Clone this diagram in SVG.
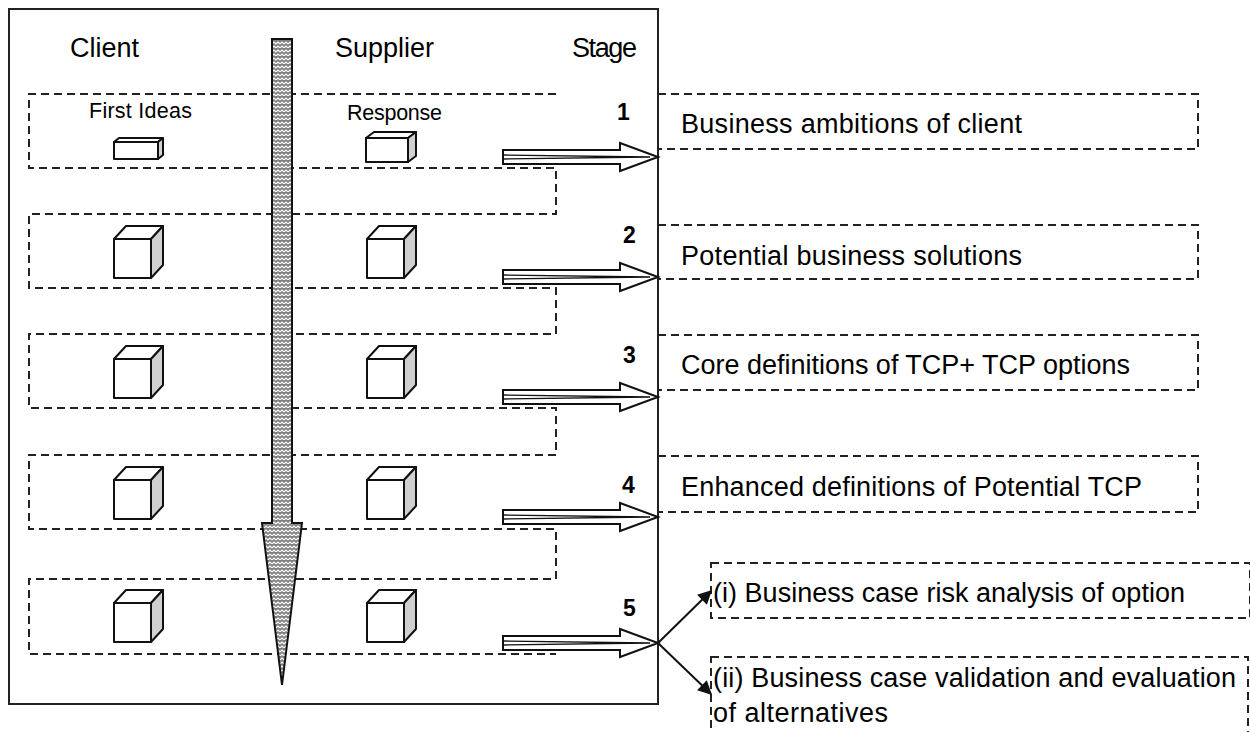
<svg xmlns="http://www.w3.org/2000/svg" width="1250" height="732" viewBox="0 0 1250 732">
<style>
.t{font-family:"Liberation Sans",Arial,sans-serif;fill:#000}
.h{font-size:27px}
.s{font-size:21.5px}
.n{font-size:23px;font-weight:bold}
.r{font-size:27px}
.dash{fill:none;stroke:#222;stroke-width:2;stroke-dasharray:8 5}
.box{fill:#fff;stroke:#111;stroke-width:2;stroke-linejoin:round}
.side{fill:#d0d0d0;stroke:#111;stroke-width:2;stroke-linejoin:round}
.dbl{fill:#fff;stroke:#111;stroke-width:2;stroke-linejoin:miter}
.in{fill:none;stroke:#111;stroke-width:1.3}
.ln{fill:none;stroke:#111;stroke-width:2}
</style>
<defs>
<pattern id="weave" width="8" height="8" patternUnits="userSpaceOnUse">
<rect width="8" height="8" fill="#808080"/>
<path d="M0,4 L2,2 L4,4 L6,2 L8,4 M0,8 L2,6 L4,8 L6,6 L8,8" fill="none" stroke="#fff" stroke-width="1.1"/>
</pattern>
<marker id="ahb" viewBox="0 0 10 10" refX="9" refY="5" markerWidth="16" markerHeight="14" markerUnits="userSpaceOnUse" orient="auto">
<path d="M0,0 L10,5 L0,10 z" fill="#111"/>
</marker>
<g id="cube">
<rect class="box" x="0" y="0" width="37" height="39"/>
<polygon class="box" points="0,0 12,-13 49,-13 37,0"/>
<polygon class="side" points="37,0 49,-13 49,26 37,39"/>
</g>
<g id="dblarrow">
<polygon class="dbl" points="503,-7 620,-7 620,-14 658,0 620,14 620,7 503,7"/>
<path class="in" d="M503,-2 L650,0 M503,2 L650,0"/>
</g>
</defs>
<rect width="1250" height="732" fill="#fff"/>

<g id="frame">
<rect x="9" y="9" width="649" height="695" fill="none" stroke="#222" stroke-width="2"/>
</g>

<g id="headers">
<text class="t h" x="70" y="57">Client</text>
<text class="t h" x="335" y="57">Supplier</text>
<text class="t h" x="572" y="57" textLength="65">Stage</text>
</g>

<g id="stage-rows">
<path class="dash" d="M556,94 H29 V168 H556 V214 H29 V288 H556 V334 H29 V408 H556 V455 H29 V529 H556 V579 H29 V654 H556"/>
</g>

<g id="row1">
<text class="t s" x="89" y="118" textLength="103">First Ideas</text>
<text class="t s" x="347" y="120" textLength="95">Response</text>
<g id="client-box-1">
<rect class="box" x="114" y="142" width="44" height="17"/>
<polygon class="box" points="114,142 119,138 163,138 158,142"/>
<polygon class="side" points="158,142 163,138 163,155 158,159"/>
</g>
<g id="supplier-box-1">
<rect class="box" x="366" y="138" width="42" height="24"/>
<polygon class="box" points="366,138 374,132 416,132 408,138"/>
<polygon class="side" points="408,138 416,132 416,156 408,162"/>
</g>
</g>

<g id="row2"><use href="#cube" x="114" y="239"/><use href="#cube" x="367" y="239"/></g>
<g id="row3"><use href="#cube" x="114" y="359"/><use href="#cube" x="367" y="359"/></g>
<g id="row4"><use href="#cube" x="114" y="480"/><use href="#cube" x="367" y="480"/></g>
<g id="row5"><use href="#cube" x="114" y="603"/><use href="#cube" x="367" y="603"/></g>

<g id="time-arrow">
<polygon points="272,39 292,39 292,523 302,523 282,685 262,523 272,523" fill="url(#weave)" stroke="#111" stroke-width="2" stroke-linejoin="miter"/>
</g>

<g id="stage-numbers">
<text class="t n" x="617" y="120">1</text>
<text class="t n" x="623" y="243">2</text>
<text class="t n" x="623" y="363">3</text>
<text class="t n" x="622" y="493">4</text>
<text class="t n" x="623" y="616">5</text>
</g>

<g id="stage1-box">
<rect class="dash" x="658" y="94" width="540" height="55"/>
<text class="t r" x="681" y="133" textLength="341">Business ambitions of client</text>
</g>
<g id="stage2-box">
<rect class="dash" x="658" y="225" width="540" height="54"/>
<text class="t r" x="681" y="265" textLength="341">Potential business solutions</text>
</g>
<g id="stage3-box">
<rect class="dash" x="658" y="335" width="540" height="55"/>
<text class="t r" x="681" y="374" textLength="449">Core definitions of TCP+ TCP options</text>
</g>
<g id="stage4-box">
<rect class="dash" x="658" y="456" width="540" height="56"/>
<text class="t r" x="681" y="496" textLength="461">Enhanced definitions of Potential TCP</text>
</g>
<g id="stage5i-box">
<rect class="dash" x="711" y="563" width="539" height="55"/>
<text class="t r" x="713" y="602" textLength="472">(i) Business case risk analysis of option</text>
</g>
<g id="stage5ii-box">
<rect class="dash" x="711" y="657" width="537" height="90"/>
<text class="t r" x="713" y="687" textLength="523">(ii) Business case validation and evaluation</text>
<text class="t r" x="713" y="722" textLength="175">of alternatives</text>
</g>

<g id="connectors">
<use href="#dblarrow" x="0" y="157"/>
<use href="#dblarrow" x="0" y="277"/>
<use href="#dblarrow" x="0" y="397"/>
<use href="#dblarrow" x="0" y="517"/>
<use href="#dblarrow" x="0" y="643"/>
<line class="ln" x1="658" y1="643" x2="711" y2="591" marker-end="url(#ahb)"/>
<line class="ln" x1="658" y1="643" x2="711" y2="694" marker-end="url(#ahb)"/>
</g>
</svg>
